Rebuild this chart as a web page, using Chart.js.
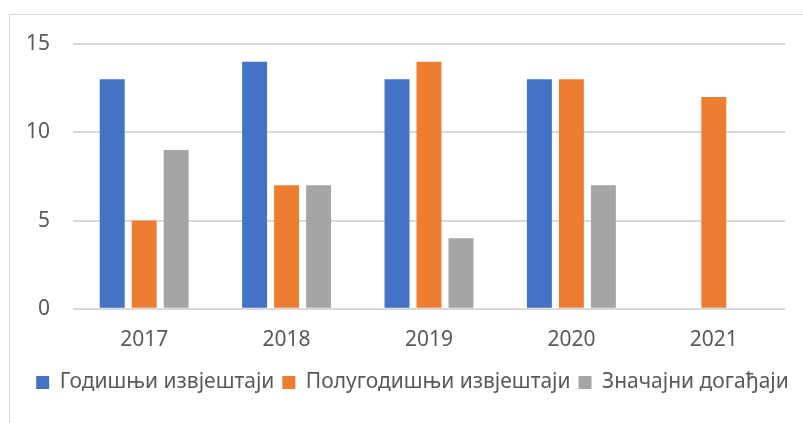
<!DOCTYPE html>
<html>
<head>
<meta charset="utf-8">
<script src="https://cdn.jsdelivr.net/npm/chart.js@4"></script>
<style>
  body { margin: 0; background: #fff; overflow: hidden; }
  .wrap { position: relative; width: 803px; height: 423px; }
  .frame { position: absolute; left: 9px; top: 14px; width: 900px; height: 500px; border: 1px solid #d9d9d9; box-sizing: border-box; }
  canvas { position: absolute; left: 0; top: 0; }
</style>
</head>
<body>
<div class="wrap">
  <div class="frame"></div>
  <canvas id="myChart" width="803" height="423"></canvas>
</div>
<script>
// data
var years = ["2017", "2018", "2019", "2020", "2021"];
var godisnji = [13, 14, 13, 13, null];
var polugodisnji = [5, 7, 14, 13, 12];
var znacajni = [9, 7, 4, 7, null];
var yTicks = [0, 5, 10, 15];

// legend in the reference sits a bit right of the canvas centre
var shiftLegend = {
    id: 'shiftLegend',
    afterLayout: function (chart) {
        chart.legend.left += 20;
        chart.legend.right += 20;
    }
};

var ctx = document.getElementById("myChart").getContext('2d');
var myChart = new Chart(ctx, {
    type: 'bar',
    data: {
        labels: years,
        datasets: [{
            label: 'Годишњи извјештаји',
            data: godisnji,
            backgroundColor: "#4472C4"
        }, {
            label: 'Полугодишњи извјештаји',
            data: polugodisnji,
            backgroundColor: "#ED7D31"
        }, {
            label: 'Значајни догађаји',
            data: znacajni,
            backgroundColor: "#A5A5A5"
        }]
    },
    plugins: [shiftLegend],
    options: {
        responsive: false,
        animation: false,
        layout: { padding: { top: 44, right: 18, bottom: 20, left: 0 } },
        datasets: {
            bar: { categoryPercentage: 0.674, barPercentage: 0.78 }
        },
        plugins: {
            tooltip: { enabled: false },
            legend: {
                position: 'bottom',
                labels: {
                    boxWidth: 13,
                    boxHeight: 13,
                    padding: 8,
                    color: '#595959',
                    font: { family: 'Noto Sans', size: 21 }
                }
            }
        },
        scales: {
            x: {
                grid: { display: false },
                border: { display: false },
                ticks: { color: '#595959', padding: 11, font: { family: 'Noto Sans', size: 21 } }
            },
            y: {
                min: 0,
                max: 15,
                afterFit: function (scale) { scale.width = 73; },
                afterBuildTicks: function (scale) {
                    scale.ticks = yTicks.map(function (v) { return { value: v }; });
                },
                grid: { color: '#d9d9d9', lineWidth: 2, drawTicks: false },
                border: { display: false },
                ticks: { color: '#595959', padding: 23, font: { family: 'Noto Sans', size: 21 } }
            }
        }
    }
});
</script>
</body>
</html>
